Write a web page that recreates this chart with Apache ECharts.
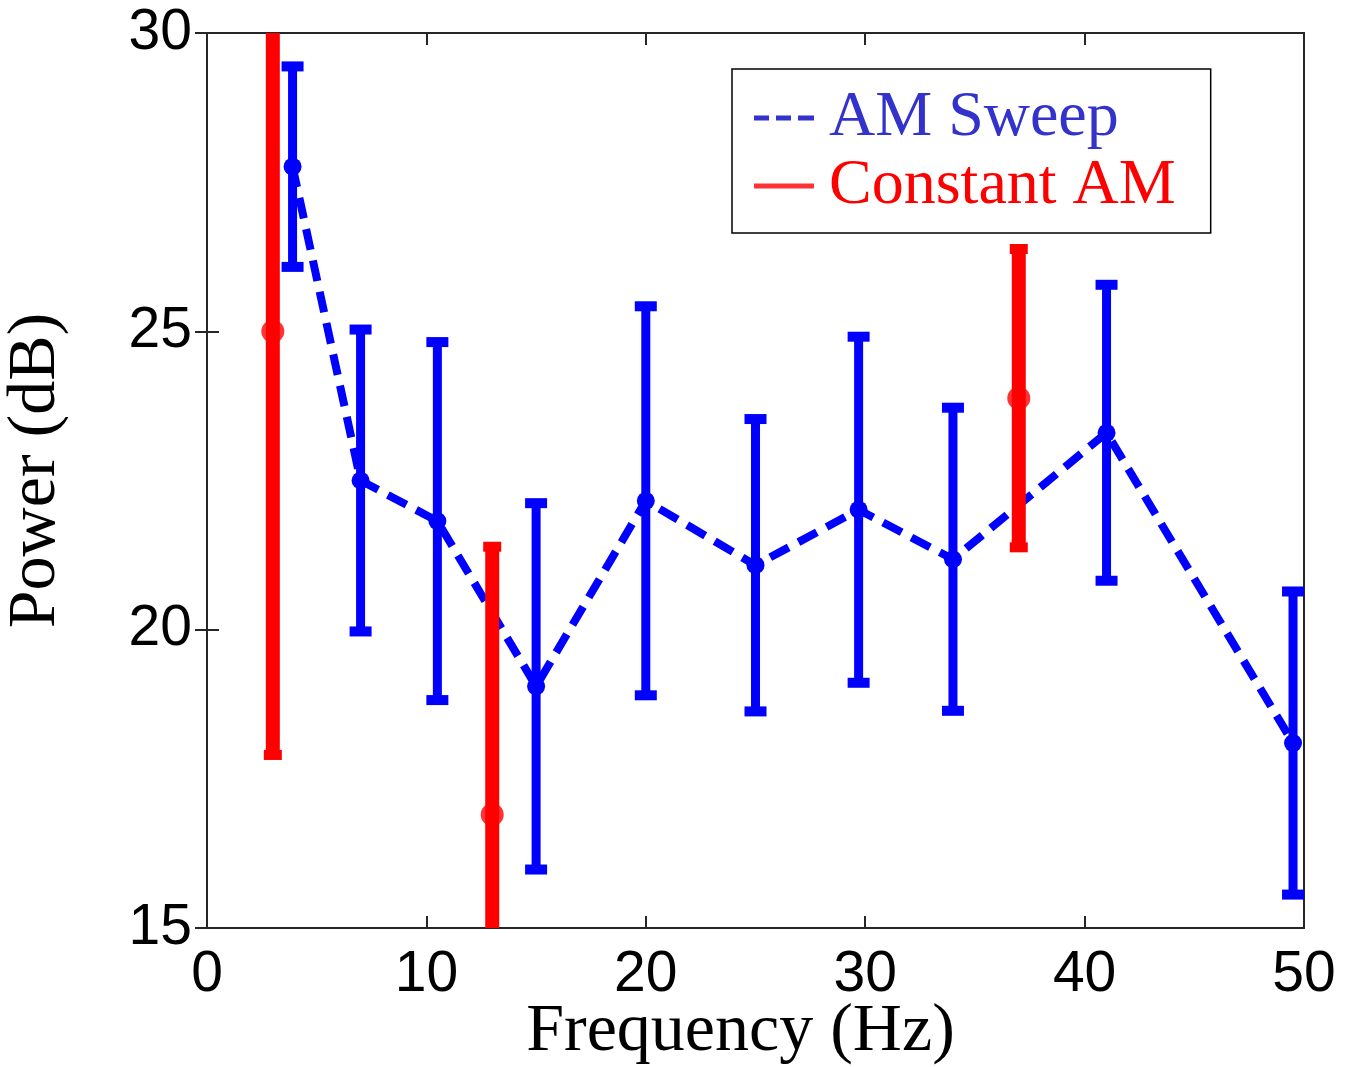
<!DOCTYPE html>
<html>
<head>
<meta charset="utf-8">
<script src="https://cdn.jsdelivr.net/npm/echarts@6/dist/echarts.min.js"></script>
<style>
html,body{margin:0;padding:0;background:#fff;}
#chart{width:1345px;height:1067px;}
</style>
</head>
<body>
<div id="chart"></div>
<script>
// ---- data ----
var sweepFreq = [3.9, 7, 10.5, 15, 20, 25, 29.7, 34, 41, 49.5];
var sweepMean = [27.76, 22.5, 21.82, 19.05, 22.16, 21.08, 22.01, 21.18, 23.3, 18.1];
var sweepErr  = [1.68, 2.53, 3.0, 3.07, 3.26, 2.45, 2.9, 2.54, 2.48, 2.54];

var constFreq = [3, 13, 37];
var constMean = [25.0, 16.9, 23.88];
var constErr  = [7.1, 4.49, 2.5];

var xTicks = [0, 10, 20, 30, 40, 50];
var yTicks = [15, 20, 25, 30];

// ---- build ----
function pairs(xs, ys) { return xs.map(function (x, i) { return [x, ys[i]]; }); }
function errRows(xs, m, e) { return xs.map(function (x, i) { return [x, m[i] - e[i], m[i] + e[i]]; }); }

function clipRect(r, cs) {
  var x1 = Math.max(r.x, cs.x), y1 = Math.max(r.y, cs.y);
  var x2 = Math.min(r.x + r.width, cs.x + cs.width), y2 = Math.min(r.y + r.height, cs.y + cs.height);
  if (x2 <= x1 || y2 <= y1) return null;
  return { x: x1, y: y1, width: x2 - x1, height: y2 - y1 };
}

function errRenderer(color, barW, capW, capH) {
  return function (params, api) {
    var cs = params.coordSys;
    var x = api.value(0), lo = api.value(1), hi = api.value(2);
    var pLo = api.coord([x, lo]), pHi = api.coord([x, hi]);
    var rects = [
      { x: pLo[0] - barW / 2, y: pHi[1], width: barW, height: pLo[1] - pHi[1] },
      { x: pHi[0] - capW / 2, y: pHi[1] - capH / 2, width: capW, height: capH },
      { x: pLo[0] - capW / 2, y: pLo[1] - capH / 2, width: capW, height: capH }
    ];
    var children = [];
    rects.forEach(function (r) {
      var c = clipRect(r, cs);
      if (c) children.push({ type: 'rect', shape: c, style: { fill: color } });
    });
    return { type: 'group', children: children };
  };
}

var BLUE = '#0000ff', RED = '#ff0000';
var axisColor = '#262626';
var tickFont = { fontFamily: 'Liberation Sans', fontSize: 57, color: '#000' };

var chart = echarts.init(document.getElementById('chart'), null, { renderer: 'canvas' });
chart.setOption({
  animation: false,
  backgroundColor: '#fff',
  grid: { left: 207, top: 33, right: 41, bottom: 139, containLabel: false, outerBoundsMode: 'none',
          show: true, borderColor: axisColor, borderWidth: 2, backgroundColor: 'transparent' },
  xAxis: [{
    type: 'value', min: 0, max: 50, interval: 10, position: 'bottom',
    axisLine: { show: false }, splitLine: { show: false },
    axisTick: { show: true, inside: true, length: 12, lineStyle: { color: axisColor, width: 2 } },
    axisLabel: Object.assign({ margin: 19, formatter: function (v) { return xTicks.indexOf(v) >= 0 ? String(v) : ''; } }, tickFont),
    name: 'Frequency (Hz)', nameLocation: 'middle', nameGap: 70, nameMoveOverlap: false,
    nameTextStyle: { fontFamily: 'Liberation Serif', fontSize: 68, color: '#000', padding: [0, 30, 0, 0] }
  }, {
    type: 'value', min: 0, max: 50, interval: 10, position: 'top',
    axisLine: { show: false }, splitLine: { show: false },
    axisTick: { show: true, inside: true, length: 12, lineStyle: { color: axisColor, width: 2 } },
    axisLabel: { show: false }
  }],
  yAxis: [{
    type: 'value', min: 15, max: 30, interval: 5, position: 'left',
    axisLine: { show: false }, splitLine: { show: false },
    axisTick: { show: true, inside: true, length: 12, lineStyle: { color: axisColor, width: 2 } },
    axisLabel: Object.assign({ margin: 15, formatter: function (v) { return yTicks.indexOf(v) >= 0 ? String(v) : ''; } }, tickFont),
    name: 'Power (dB)', nameLocation: 'middle', nameGap: 137, nameMoveOverlap: false,
    nameTextStyle: { fontFamily: 'Liberation Serif', fontSize: 68, color: '#000', padding: [0, 0, 0, 20] }
  }, {
    type: 'value', min: 15, max: 30, interval: 5, position: 'right',
    axisLine: { show: false }, splitLine: { show: false },
    axisTick: { show: true, inside: true, length: 12, lineStyle: { color: axisColor, width: 2 } },
    axisLabel: { show: false }
  }],
  legend: {
    left: 732, top: 69, orient: 'vertical', selectedMode: false,
    backgroundColor: '#fff', borderColor: '#000', borderWidth: 1.5,
    padding: [17, 35, 15, 22], itemGap: 4, itemWidth: 60, itemHeight: 6,
    textStyle: { fontFamily: 'Liberation Serif', fontSize: 64, lineHeight: 62, padding: [0, 0, 0, 10] },
    data: [
      { name: 'AM Sweep', icon: 'path://M0,0h15v5h-15z M22,0h15v5h-15z M44,0h16v5h-16z', itemStyle: { color: '#3333cc' }, textStyle: { color: '#3333cc' } },
      { name: 'Constant AM', icon: 'path://M0,0h60v5h-60z', itemStyle: { color: RED }, textStyle: { color: RED } }
    ]
  },
  series: [
    {
      name: 'AM Sweep error', type: 'custom', z: 2, silent: true,
      renderItem: errRenderer(BLUE, 9, 22, 10),
      encode: { x: 0, y: [1, 2] },
      data: errRows(sweepFreq, sweepMean, sweepErr)
    },
    {
      name: 'AM Sweep', type: 'line', z: 3, silent: true,
      data: pairs(sweepFreq, sweepMean),
      symbol: 'circle', symbolSize: 18,
      itemStyle: { color: BLUE },
      lineStyle: { color: BLUE, width: 8, type: [21, 11] }
    },
    {
      name: 'Constant AM error', type: 'custom', z: 4, silent: true,
      renderItem: errRenderer(RED, 14, 18, 10),
      encode: { x: 0, y: [1, 2] },
      data: errRows(constFreq, constMean, constErr)
    },
    {
      name: 'Constant AM', type: 'scatter', z: 5, silent: true,
      data: pairs(constFreq, constMean),
      symbol: 'circle', symbolSize: 23,
      itemStyle: { color: RED }
    }
  ]
});
</script>
</body>
</html>
